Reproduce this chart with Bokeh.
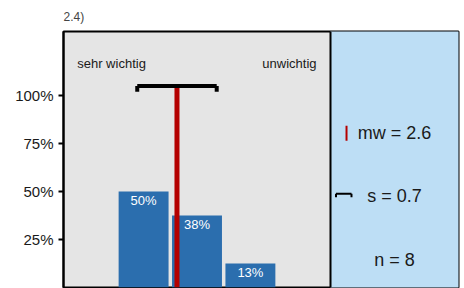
from bokeh.plotting import figure
from bokeh.models import Range1d, FixedTicker, Label, Span, ColumnDataSource
from bokeh.embed import file_html
from bokeh.resources import INLINE
from bokeh.core.properties import value

# ---- data ----
categories = [1, 2, 3, 4, 5]            # 1 = sehr wichtig ... 5 = unwichtig
shares = [0.0, 0.50, 0.375, 0.125, 0.0]
bar_labels = ["0%", "50%", "38%", "13%", "0%"]
mean_value = 2.625
sd_value = 0.744
n_value = 8
mean_text = "mw = 2.6"
sd_text = "s = 0.7"
n_text = "n = 8"
title_text = "2.4)"
left_label = "sehr wichtig"
right_label = "unwichtig"
ytick_values = [0.25, 0.5, 0.75, 1.0]
ytick_labels = ["25%", "50%", "75%", "100%"]

FONT = "Liberation Sans"
BAR_COLOR = "#2B6EAE"
RED = "#B40000"
PANEL_BLUE = "#BDDEF5"
GRAY_BG = "#E5E5E5"

x_max = 0.5 + 395 / 53.4
y_max = 1.332

p = figure(width=460, height=288, output_backend="svg", toolbar_location=None,
           x_range=Range1d(0.5, x_max), y_range=Range1d(0, y_max),
           x_axis_location=None, min_border_left=63, min_border_top=31,
           min_border_right=2, min_border_bottom=1)
p.background_fill_color = GRAY_BG
p.border_fill_color = "white"
p.outline_line_color = "black"
p.outline_line_width = 2
p.grid.visible = False

p.title.text = title_text
p.title.text_font = FONT
p.title.text_font_size = "12px"
p.title.text_font_style = "normal"
p.title.text_color = "#444444"
p.title.align = "left"
p.title.standoff = 15

# right info panel
p.quad(left=[5.5], right=[x_max + 1], bottom=[-1], top=[y_max + 1],
       fill_color=PANEL_BLUE, line_color=None)
p.add_layout(Span(location=5.5, dimension="height", line_color="black", line_width=2))

# bars
bx = [c for c, s in zip(categories, shares) if s > 0]
bt = [s for s in shares if s > 0]
bl = [l for l, s in zip(bar_labels, shares) if s > 0]
src = ColumnDataSource(dict(x=bx, top=bt, label=bl))
p.vbar(x="x", top="top", width=0.935, bottom=0, source=src,
       fill_color=BAR_COLOR, line_color=None)
p.text(x="x", y="top", text="label", source=src, text_align="center",
       text_baseline="middle", y_offset=9, text_color="white",
       text_font=value(FONT), text_font_size="13px")

# mean line and sd whisker
whisk_y = 1.048
p.segment(x0=[mean_value], y0=[0], x1=[mean_value], y1=[whisk_y],
          line_color=RED, line_width=5)
lo, hi = mean_value - sd_value, mean_value + sd_value
p.segment(x0=[lo, lo, hi], y0=[whisk_y, whisk_y, whisk_y],
          x1=[hi, lo, hi], y1=[whisk_y, 1.018, 1.018],
          line_color="black", line_width=4)

# y axis
ax = p.yaxis[0]
ax.ticker = FixedTicker(ticks=ytick_values)
ax.major_label_overrides = {v: l for v, l in zip(ytick_values, ytick_labels)}
ax.axis_line_color = "black"
ax.axis_line_width = 2
ax.major_tick_line_width = 2
ax.major_tick_in = 0
ax.major_tick_out = 5
ax.minor_tick_line_color = None
ax.major_label_text_font = FONT
ax.major_label_text_font_size = "15px"
ax.major_label_text_color = "#1a1a1a"
ax.major_label_standoff = 5

# scale end labels
p.add_layout(Label(x=0.757, y=1.165, text=left_label, text_font=FONT,
                   text_font_size="13px", text_color="#1a1a1a",
                   text_align="left", text_baseline="middle"))
p.add_layout(Label(x=5.238, y=1.165, text=right_label, text_font=FONT,
                   text_font_size="13px", text_color="#1a1a1a",
                   text_align="right", text_baseline="middle"))

# info panel texts
cx = 6.698
for txt, yy in [(mean_text, 0.806), (sd_text, 0.478), (n_text, 0.144)]:
    p.add_layout(Label(x=cx, y=yy, text=txt, text_font=FONT, text_font_size="18px",
                       text_color="#1a1a1a", text_align="center", text_baseline="middle"))

# legend symbols
p.segment(x0=[5.80], y0=[0.764], x1=[5.80], y1=[0.842], line_color=RED, line_width=2)
p.segment(x0=[5.603, 5.603, 5.893], y0=[0.488, 0.488, 0.488],
          x1=[5.893, 5.603, 5.893], y1=[0.488, 0.470, 0.470],
          line_color="black", line_width=2)

open("out.html", "w").write(file_html(p, INLINE))
